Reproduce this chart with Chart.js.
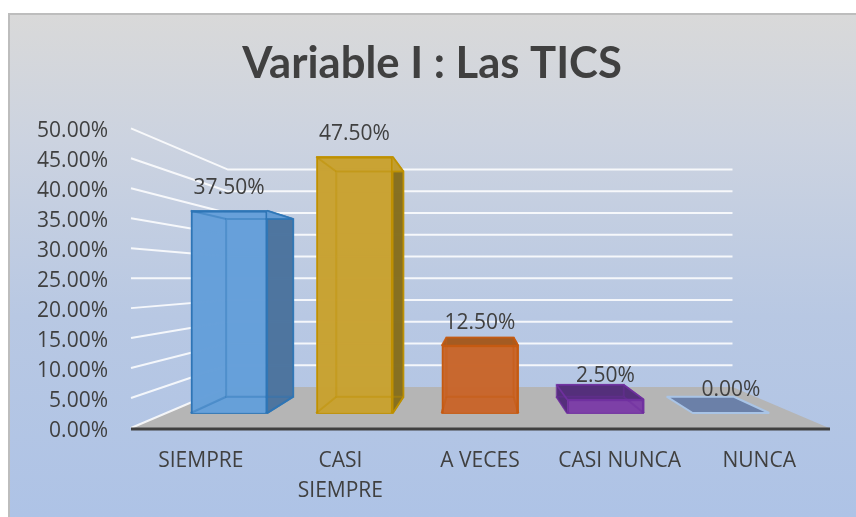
<!DOCTYPE html>
<html>
<head>
<meta charset="utf-8">
<title>Variable I : Las TICS</title>
<script src="https://cdn.jsdelivr.net/npm/chart.js@4"></script>
<style>
  html, body { margin: 0; background: #fff; }
  #panel { position: absolute; left: 8px; top: 13px; width: 848px; height: 504px; border-left: 2px solid #bdbdbd; border-top: 2px solid #bdbdbd;
           background: linear-gradient(#d9d9d9 0%, #ccd3e0 25%, #b8c8e3 60%, #aec3e6 100%); box-sizing: border-box; }
  #wrap { position: absolute; left: 0; top: 0; width: 856px; height: 517px; }
</style>
</head>
<body>
<div id="panel"></div>
<div id="wrap"><canvas id="tics" width="856" height="517"></canvas></div>
<script>
const categories = [['SIEMPRE'], ['CASI', 'SIEMPRE'], ['A VECES'], ['CASI NUNCA'], ['NUNCA']];
const percentages = [37.5, 47.5, 12.5, 2.5, 0];
const faceColors = ['#659fd9', '#c8a232', '#c8672c', '#7c3fa6', '#6b80a8'];
const sideColors = ['#4a7099', '#7f6a1e', '#a0591f', '#4f2c75', '#6b80a8'];
const edgeColors = ['#2e75b6', '#bf9000', '#c55a11', '#7030a0', '#a9c4e6'];

const TEXT = '#404040';
const FONT = '"Open Sans", sans-serif';

// fake 3d: depth goes 0 (front edge of floor) to 1 (back wall)
const SHRINK_X = 0.2765, SHRINK_Y = 0.274, FLOOR_RISE = 41;
const BAR_FRONT = 0.366, BAR_BACK = 0.763, BAR_W = 0.61;
const AREA_H = 299;

const kx = 1 - BAR_FRONT * SHRINK_X;
const ky = 1 - BAR_FRONT * SHRINK_Y;
const pxPerUnit = AREA_H / 50 * ky;

function project(chart, xv, yv, d) {
  const sx = chart.scales.x, sy = chart.scales.y;
  const cx = (sx.left + sx.right) / 2, y0 = sy.getPixelForValue(0);
  return [
    cx + (sx.getPixelForValue(xv) - cx) * (1 - d * SHRINK_X),
    y0 - d * FLOOR_RISE + (sy.getPixelForValue(yv) - y0) * (1 - d * SHRINK_Y)
  ];
}

function poly(ctx, pts, fill, stroke, lw) {
  ctx.beginPath();
  pts.forEach((p, i) => i ? ctx.lineTo(p[0], p[1]) : ctx.moveTo(p[0], p[1]));
  ctx.closePath();
  if (fill) { ctx.fillStyle = fill; ctx.fill(); }
  if (stroke) { ctx.strokeStyle = stroke; ctx.lineWidth = lw || 1; ctx.stroke(); }
}

function barCorners(chart, i, v) {
  const l = i - BAR_W / 2, r = i + BAR_W / 2;
  return {
    fbl: project(chart, l, 0, BAR_FRONT), fbr: project(chart, r, 0, BAR_FRONT),
    ftl: project(chart, l, v, BAR_FRONT), ftr: project(chart, r, v, BAR_FRONT),
    bbl: project(chart, l, 0, BAR_BACK), bbr: project(chart, r, 0, BAR_BACK),
    btl: project(chart, l, v, BAR_BACK), btr: project(chart, r, v, BAR_BACK)
  };
}

const scene3d = {
  id: 'scene3d',
  afterLayout(chart) {
    // title sits centred on the panel, not on the padded box
    chart.titleBlock.left += 13.5;
    chart.titleBlock.right += 13.5;
  },
  beforeDatasetsDraw(chart) {
    const ctx = chart.ctx, n = categories.length;
    ctx.save();
    ctx.lineJoin = 'bevel';
    // floor
    poly(ctx, [project(chart, -0.5, 0, 0), project(chart, n - 0.5, 0, 0), project(chart, n - 0.5, 0, 1), project(chart, -0.5, 0, 1)], '#b5b5b5');
    // grid on left wall and back wall
    ctx.strokeStyle = 'rgba(255,255,255,0.85)';
    ctx.lineWidth = 2;
    chart.scales.y.ticks.forEach(t => {
      if (t.value === 0) return;
      const a = project(chart, -0.5, t.value, 0), b = project(chart, -0.5, t.value, 1), c = project(chart, n - 0.5, t.value, 1);
      ctx.beginPath();
      ctx.moveTo(a[0], a[1]); ctx.lineTo(b[0], b[1]); ctx.lineTo(c[0], c[1]);
      ctx.stroke();
    });
    const a0 = project(chart, -0.5, 0, 0), b0 = project(chart, -0.5, 0, 1);
    ctx.beginPath(); ctx.moveTo(a0[0], a0[1]); ctx.lineTo(b0[0], b0[1]); ctx.stroke();
    // bar faces that sit behind the front one
    percentages.forEach((v, i) => {
      const c = barCorners(chart, i, v);
      ctx.globalAlpha = v === 0 ? 1 : 0.9;
      poly(ctx, [c.bbl, c.bbr, c.fbr, c.fbl], faceColors[i], edgeColors[i], 2);
      if (v === 0) return;
      // a side is only dark where it sticks out past the front face
      poly(ctx, [c.bbl, c.bbr, c.btr, c.btl], faceColors[i]);
      poly(ctx, [c.fbl, c.bbl, c.btl, c.ftl], c.bbl[0] < c.fbl[0] ? sideColors[i] : faceColors[i]);
      poly(ctx, [c.fbr, c.bbr, c.btr, c.ftr], c.bbr[0] > c.fbr[0] ? sideColors[i] : faceColors[i], edgeColors[i], 1.5);
      poly(ctx, [c.ftl, c.ftr, c.btr, c.btl], c.btl[1] < c.ftl[1] ? sideColors[i] : faceColors[i], edgeColors[i], 1.5);
    });
    ctx.restore();
  },
  afterDatasetsDraw(chart) {
    const ctx = chart.ctx, meta = chart.getDatasetMeta(0);
    ctx.save();
    // back edges show through the see-through front
    percentages.forEach((v, i) => {
      if (v === 0) return;
      const c = barCorners(chart, i, v);
      ctx.globalAlpha = 0.4;
      poly(ctx, [c.bbl, c.bbr, c.btr, c.btl], null, edgeColors[i], 2);
      ctx.beginPath();
      [[c.fbl, c.bbl], [c.fbr, c.bbr], [c.ftl, c.btl], [c.ftr, c.btr]].forEach(e => {
        ctx.moveTo(e[0][0], e[0][1]); ctx.lineTo(e[1][0], e[1][1]);
      });
      ctx.stroke();
    });
    ctx.globalAlpha = 1;
    // value labels
    ctx.fillStyle = TEXT;
    ctx.font = '21px ' + FONT;
    ctx.textAlign = 'center';
    ctx.textBaseline = 'middle';
    meta.data.forEach((bar, i) => {
      ctx.fillText(percentages[i].toFixed(2) + '%', bar.x, bar.y - 23);
    });
    // category axis line, a bit wider than the floor
    const sx = chart.scales.x, y0 = chart.scales.y.getPixelForValue(0);
    ctx.strokeStyle = '#404040';
    ctx.lineWidth = 3;
    ctx.beginPath(); ctx.moveTo(sx.left, y0 + 1); ctx.lineTo(sx.right + 1, y0 + 1); ctx.stroke();
    ctx.restore();
  }
};

new Chart(document.getElementById('tics'), {
  type: 'bar',
  plugins: [scene3d],
  data: {
    labels: categories,
    datasets: [{
      data: percentages.map((v, i) => ({ x: i, y: v })),
      xAxisID: 'xBar',
      yAxisID: 'yBar',
      backgroundColor: faceColors.map(c => c + 'e0'),
      borderColor: edgeColors,
      borderWidth: 2,
      barPercentage: BAR_W,
      categoryPercentage: 1
    }]
  },
  options: {
    responsive: false,
    animation: false,
    layout: { padding: { left: 8, right: 27, top: 0, bottom: 0 } },
    plugins: {
      legend: { display: false },
      tooltip: { enabled: false },
      title: {
        display: true,
        text: 'Variable I : Las TICS',
        color: TEXT,
        font: { family: 'Lato, sans-serif', size: 43.6, weight: 'bold', lineHeight: 1.2 },
        padding: { top: 38, bottom: 38 }
      }
    },
    scales: {
      x: {
        type: 'category',
        offset: true,
        grid: { display: false },
        border: { display: false },
        ticks: { color: TEXT, font: { family: FONT, size: 21, lineHeight: 1.43 }, padding: 10, maxRotation: 0, autoSkip: false },
        afterFit(s) { s.height = 89; }
      },
      y: {
        min: 0,
        max: 50,
        grid: { display: false },
        border: { display: false },
        ticks: {
          stepSize: 5,
          color: TEXT,
          font: { family: FONT, size: 21 },
          padding: 15,
          labelOffset: 3,
          callback: v => v.toFixed(2) + '%'
        },
        afterFit(s) { s.width = 123; }
      },
      // hidden axes placing the real bars on their plane inside the floor
      xBar: {
        type: 'linear',
        display: false,
        offset: false,
        min: 2 - 2.5 / kx,
        max: 2 + 2.5 / kx
      },
      yBar: {
        type: 'linear',
        display: false,
        min: -(BAR_FRONT * FLOOR_RISE) / pxPerUnit,
        max: (AREA_H - BAR_FRONT * FLOOR_RISE) / pxPerUnit
      }
    }
  }
});
</script>
</body>
</html>
